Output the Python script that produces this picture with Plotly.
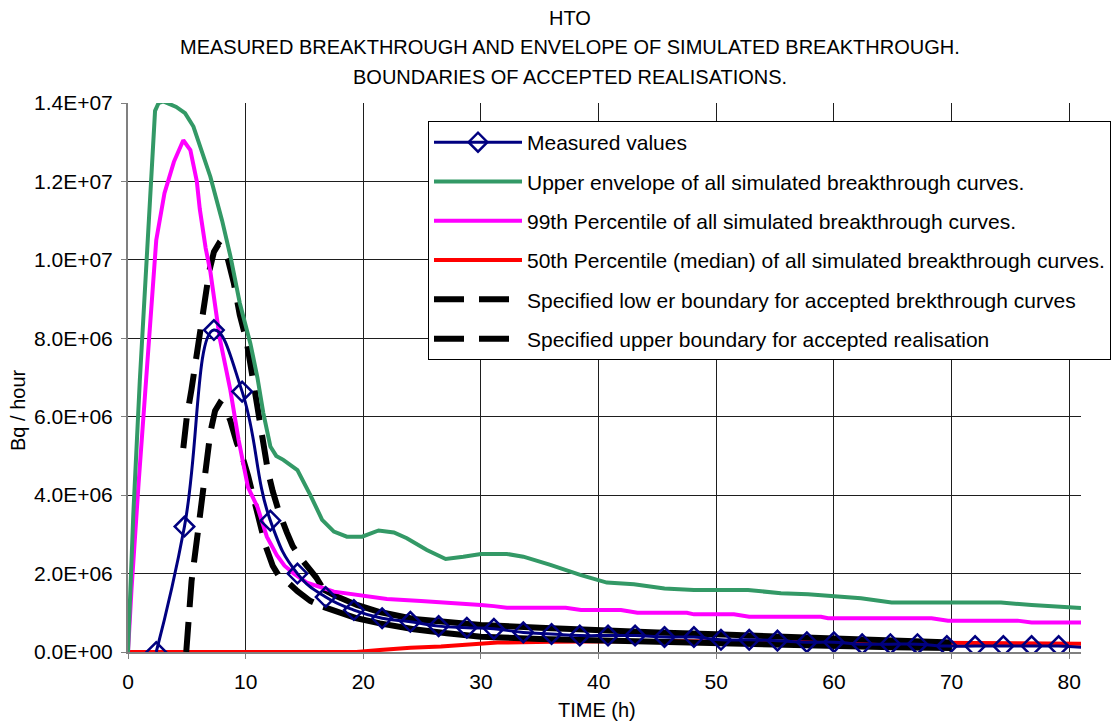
import plotly.graph_objects as go

# ---------------------------------------------------------------
# Breakthrough data: time in hours, activity in 1E6 Bq/hour
# ---------------------------------------------------------------
measured_t = [2.4, 4.8, 7.3, 9.7, 12.1, 14.4, 16.8, 19.2, 21.6, 24.0, 26.4, 28.8,
              31.1, 33.6, 36.0, 38.4, 40.8, 43.1, 45.6, 48.1, 50.4, 52.8, 55.2,
              57.7, 60.0, 62.4, 64.8, 67.1, 69.6, 72.0, 74.4, 76.8, 79.1, 81.5]
measured_v = [0.0, 3.2, 8.21, 6.64, 3.35, 2.0, 1.4, 1.07, 0.86, 0.77, 0.66, 0.62,
              0.59, 0.50, 0.46, 0.42, 0.42, 0.42, 0.38, 0.38, 0.31, 0.31, 0.29,
              0.25, 0.25, 0.20, 0.20, 0.20, 0.15, 0.15, 0.15, 0.15, 0.15, 0.11]

upper_env_t = [0, 0.45, 1.0, 1.4, 1.9, 2.3, 2.6, 3.0, 4.1, 4.85, 5.56, 6.1, 7.0,
               8.0, 8.7, 9.5, 10.4, 11.0, 11.5, 12.1, 12.6, 13.2, 14.4, 15.5,
               16.5, 17.5, 18.6, 19.9, 21.3, 22.6, 23.7, 25.4, 27.0, 28.5, 30.0,
               32.2, 33.6, 35.9, 38.5, 40.7, 43.0, 45.6, 48.1, 52.7, 55.5, 57.8,
               60.0, 62.3, 64.9, 70.0, 74.2, 76.8, 79.9, 81.0]
upper_env_v = [0, 3.5, 6.9, 9.1, 11.8, 13.8, 14.0, 14.04, 13.9, 13.74, 13.4, 12.9,
               12.12, 11.0, 10.1, 8.9, 7.87, 7.0, 6.1, 5.24, 5.0, 4.9, 4.64, 4.0,
               3.37, 3.07, 2.94, 2.94, 3.1, 3.05, 2.9, 2.6, 2.37, 2.43, 2.5,
               2.5, 2.43, 2.22, 1.96, 1.77, 1.73, 1.62, 1.58, 1.58, 1.50, 1.47,
               1.41, 1.37, 1.26, 1.26, 1.26, 1.2, 1.15, 1.12]

p99_t = [0, 0.3, 0.9, 1.5, 2.0, 2.4, 3.1, 3.9, 4.7, 5.3, 5.85, 6.1, 6.6, 7.0,
         7.8, 8.7, 9.4, 10.2, 11.0, 11.8, 12.65, 13.3, 14.1, 15.2, 17.5, 19.7,
         22.0, 24.9, 27.4, 30.0, 31.1, 32.2, 37.2, 38.5, 41.9, 43.3, 47.5, 48.1,
         51.5, 52.8, 58.9, 59.5, 68.3, 69.7, 75.6, 76.8, 81.0]
p99_v = [0, 1.6, 4.3, 6.8, 9.0, 10.5, 11.7, 12.5, 13.05, 12.8, 12.0, 11.3, 10.3, 9.7,
         8.0, 6.68, 5.41, 4.2, 3.7, 2.94, 2.47, 2.2, 2.0, 1.77, 1.54, 1.45,
         1.35, 1.3, 1.26, 1.2, 1.17, 1.13, 1.13, 1.07, 1.07, 1.0, 1.0, 0.96,
         0.96, 0.9, 0.9, 0.86, 0.86, 0.8, 0.8, 0.75, 0.75]

p50_t = [0, 19.4, 21.4, 24.0, 26.6, 30.0, 31.4, 36.0, 40.0, 45.0, 50.0, 55.0,
         60.0, 65.0, 70.0, 75.0, 81.0]
p50_v = [0, 0, 0.05, 0.11, 0.14, 0.21, 0.24, 0.26, 0.28, 0.28, 0.27, 0.26,
         0.24, 0.22, 0.21, 0.21, 0.21]

lower_bnd_t = [4.95, 5.1, 5.4, 6.0, 6.5, 7.0, 7.4, 7.8, 8.2, 8.7, 9.25, 9.7, 10.2,
               10.7, 11.2, 11.7, 12.3, 12.8, 13.5, 14.4, 15.5, 16.6, 18.0, 19.45,
               21.4, 24.3, 27.1, 30.0, 35.0, 40.0, 45.0, 50.0, 55.0, 60.0, 65.0, 70.0]
lower_bnd_v = [0, 0.8, 1.8, 3.2, 4.4, 5.6, 6.15, 6.35, 6.25, 5.9, 5.33, 5.0, 4.5,
               3.9, 3.35, 2.7, 2.2, 1.95, 1.8, 1.55, 1.3, 1.15, 1.0, 0.86,
               0.73, 0.58, 0.48, 0.39, 0.33, 0.29, 0.25, 0.21, 0.17, 0.14, 0.12, 0.10]

upper_bnd_t = [4.7, 5.0, 5.4, 5.85, 6.3, 6.9, 7.3, 7.7, 8.1, 8.5, 9.0, 9.5, 10.1,
               10.7, 11.3, 11.9, 12.3, 12.8, 13.5, 14.0, 14.6, 15.3, 16.0, 16.6,
               17.5, 19.45, 21.4, 24.3, 27.1, 30.0, 35.0, 40.0, 45.0, 50.0, 55.0,
               60.0, 65.0, 70.0]
upper_bnd_v = [5.2, 6.0, 6.7, 7.6, 8.7, 9.7, 10.2, 10.4, 10.3, 10.0, 9.4, 8.6, 7.9,
               6.8, 5.6, 4.6, 4.1, 3.6, 3.05, 2.7, 2.42, 2.15, 1.9, 1.6,
               1.45, 1.2, 1.02, 0.84, 0.75, 0.69, 0.62, 0.55, 0.50, 0.45, 0.40,
               0.34, 0.28, 0.24]

y_tick_vals = [0, 2, 4, 6, 8, 10, 12, 14]
y_tick_text = ["0.0E+00", "2.0E+06", "4.0E+06", "6.0E+06", "8.0E+06",
               "1.0E+07", "1.2E+07", "1.4E+07"]

title_lines = ["HTO",
               "MEASURED BREAKTHROUGH AND ENVELOPE OF SIMULATED BREAKTHROUGH.",
               "BOUNDARIES OF ACCEPTED REALISATIONS."]

# ---------------------------------------------------------------
UNIT = 1e6
X_MAX = 81
DASH_END = 16.6          # boundaries drawn dashed on the steep part only
FONT = "Liberation Sans, Arial, sans-serif"
NAVY = "#000080"


def scaled(vals):
    return [v * UNIT for v in vals]


def split(ts, vs, t_cut):
    i = ts.index(t_cut)
    return (ts[:i + 1], vs[:i + 1]), (ts[i:], vs[i:])


fig = go.Figure()

fig.add_trace(go.Scatter(
    x=p50_t, y=scaled(p50_v), mode="lines", legendrank=4, legendgroup="g4",
    name="50th Percentile (median) of all simulated breakthrough curves.",
    line=dict(color="#FF0000", width=4)))

for ts, vs, name, rank in [
        (lower_bnd_t, lower_bnd_v,
         "Specified low er boundary for accepted brekthrough curves", 5),
        (upper_bnd_t, upper_bnd_v,
         "Specified upper boundary for accepted realisation", 6)]:
    (dt, dv), (st, sv) = split(ts, vs, DASH_END)
    grp = "g%d" % rank
    fig.add_trace(go.Scatter(
        x=dt, y=scaled(dv), mode="lines", name=name, legendrank=rank,
        legendgroup=grp, line=dict(color="black", width=6, dash="30px,15px")))
    fig.add_trace(go.Scatter(
        x=st, y=scaled(sv), mode="lines", name=name, legendgroup=grp,
        showlegend=False, line=dict(color="black", width=6)))

fig.add_trace(go.Scatter(
    x=p99_t, y=scaled(p99_v), mode="lines", legendrank=3, legendgroup="g3",
    name="99th Percentile of all simulated breakthrough curves.",
    line=dict(color="#FF00FF", width=4)))

fig.add_trace(go.Scatter(
    x=upper_env_t, y=scaled(upper_env_v), mode="lines", legendrank=2,
    legendgroup="g2",
    name="Upper envelope of all simulated breakthrough curves.",
    line=dict(color="#339966", width=4)))

fig.add_trace(go.Scatter(
    x=measured_t, y=scaled(measured_v), mode="lines+markers", legendrank=1,
    legendgroup="g1", name="Measured values",
    line=dict(color=NAVY, width=3, shape="spline", smoothing=1.3),
    marker=dict(symbol="diamond-open", color=NAVY, opacity=1,
                size=[15 if t <= X_MAX else 0 for t in measured_t],
                line=dict(width=2.5, color=NAVY))))

# title lines (pixel centres 18, 47, 77 from the top of the figure)
plot_top, plot_h, plot_l, plot_w = 103, 549, 128, 953
for line, ypix in zip(title_lines, [18, 47, 77]):
    fig.add_annotation(text=line, xref="paper", yref="paper",
                       x=(570 - plot_l) / plot_w, y=(plot_top + plot_h - ypix) / plot_h,
                       xanchor="center", yanchor="middle", showarrow=False,
                       font=dict(size=20, color="black", family=FONT))

fig.add_annotation(text="TIME (h)", xref="paper", yref="paper",
                   x=(597 - plot_l) / plot_w, y=(plot_top + plot_h - 710) / plot_h,
                   xanchor="center", yanchor="middle", showarrow=False,
                   font=dict(size=20, color="black", family=FONT))
fig.add_annotation(text="Bq / hour", xref="paper", yref="paper", textangle=-90,
                   x=(18 - plot_l) / plot_w, y=(plot_top + plot_h - 410) / plot_h,
                   xanchor="center", yanchor="middle", showarrow=False,
                   font=dict(size=20, color="black", family=FONT))

axis_common = dict(showline=True, linecolor="#808080", linewidth=2,
                   showgrid=True, gridcolor="#1e1e1e", gridwidth=1,
                   zeroline=False, ticks="outside", ticklen=5,
                   tickcolor="#808080", tickwidth=1,
                   tickfont=dict(size=21, color="black", family=FONT))

fig.update_xaxes(range=[0, X_MAX], tick0=0, dtick=10, ticklabelstandoff=5,
                 **axis_common)
fig.update_yaxes(range=[0, 14 * UNIT], tickvals=scaled(y_tick_vals),
                 ticktext=y_tick_text, ticklabelstandoff=4, **axis_common)

fig.update_layout(
    width=1119, height=722,
    margin=dict(l=128, r=38, t=103, b=70, autoexpand=False),
    paper_bgcolor="white", plot_bgcolor="white",
    font=dict(family=FONT, color="black"),
    showlegend=True,
    legend=dict(x=(428 - plot_l) / plot_w, y=(plot_top + plot_h - 121) / plot_h,
                xanchor="left", yanchor="top",
                bgcolor="white", bordercolor="black", borderwidth=1,
                font=dict(size=21, color="black", family=FONT),
                itemwidth=88, traceorder="grouped", tracegroupgap=9),
)

fig.write_html("out.html")
